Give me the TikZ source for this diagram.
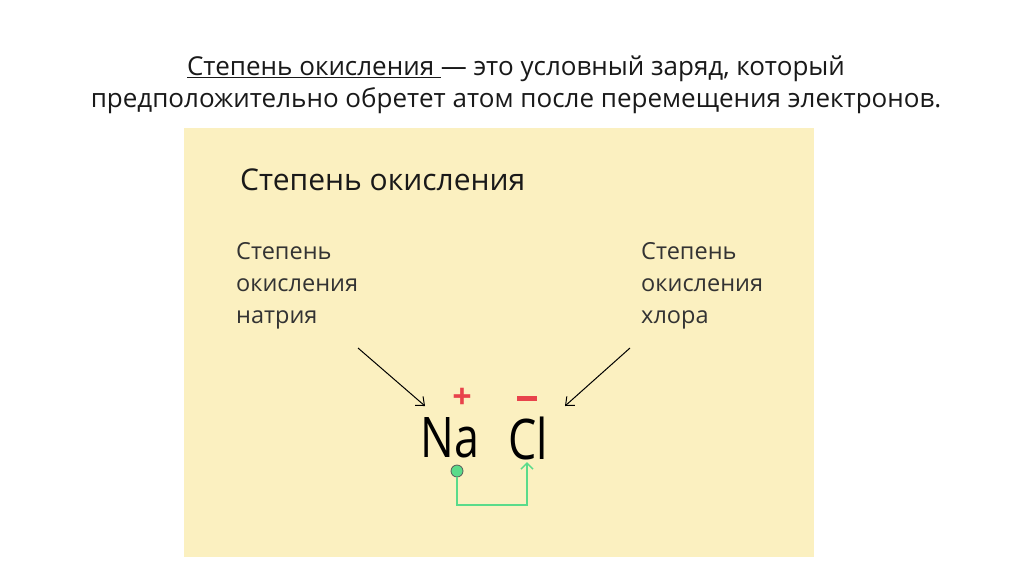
\documentclass[tikz,border=0pt]{standalone}
\usepackage{fontspec}
\setmainfont{Open Sans}
\usetikzlibrary{arrows.meta}
\definecolor{bg}{HTML}{FBF0C0}
\definecolor{redc}{HTML}{E8434B}
\definecolor{grn}{HTML}{5ADB8A}
\tikzset{lbl/.style={anchor=north west,align=left,font=\fontsize{23.5}{32}\selectfont,text=black!80,inner sep=0pt},
ptr/.style={-{Straight Barb[length=7pt,width=12pt]},line width=1pt}}
\begin{document}
\begin{tikzpicture}[x=1pt,y=-1pt]
\useasboundingbox (0,0) rectangle (1024,574);
\fill[white] (0,0) rectangle (1024,574);
\fill[bg] (184,128) rectangle (814,557);
\node[font=\fontsize{26}{32}\selectfont,align=center,text=black!90] (t) at (516,85)
 {\underline{Степень окисления\ }— это условный заряд, который\\предположительно обретет атом после перемещения электронов.};
\node[anchor=west,font=\fontsize{30}{34}\selectfont,text=black!90,inner sep=0pt] (h) at (240,180) {Степень окисления};
\node[lbl] (l1) at (236,242) {Степень\\окисления\\натрия};
\node[lbl] (l2) at (641,242) {Степень\\окисления\\хлора};
\node[font=\fontsize{56}{60}\selectfont,xscale=0.8,inner sep=0pt] (na) at (450,438) {Na};
\node[font=\fontsize{56}{60}\selectfont,xscale=0.8,inner sep=0pt] (cl) at (528,438) {Cl};
\node[text=redc,font=\bfseries\fontsize{34}{36}\selectfont] (p) at (462,398) {+};
\fill[redc] (517,395.5) rectangle (537,400.5);
\coordinate (a1) at (358,348); \coordinate (a1e) at (425,406);
\coordinate (a2) at (630,348); \coordinate (a2e) at (565,406);
\draw[ptr] (a1) -- (a1e);
\draw[ptr] (a2) -- (a2e);
\node[circle,fill=grn,draw=gray!70!black,line width=0.8pt,minimum size=12pt,inner sep=0pt] (d) at (457,471) {};
\coordinate (ce) at (527,462);
\draw[grn,line width=1.5pt,-{Straight Barb[length=6pt,width=12pt]}] (d.south) |- (527,505) -- (ce);
\end{tikzpicture}
\end{document}
